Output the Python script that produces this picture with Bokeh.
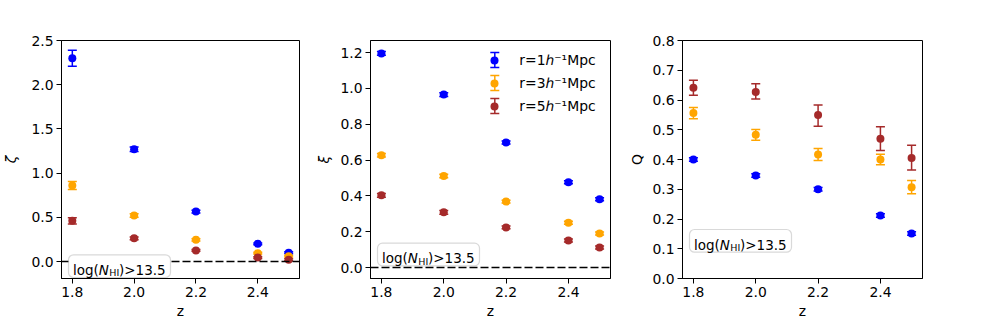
from bokeh.plotting import figure
from bokeh.layouts import row
from bokeh.models import (Range1d, FixedTicker, PrintfTickFormatter, Whisker, TeeHead,
                          ColumnDataSource, Span, BoxAnnotation, Label, Legend, LegendItem)
from bokeh.embed import file_html
from bokeh.resources import INLINE

# ---------------- data ----------------
z = [1.8, 2.0, 2.2, 2.4, 2.5]
x_ticks = [1.8, 2.0, 2.2, 2.4]
series_names = ["r=1ℎ⁻¹Mpc", "r=3ℎ⁻¹Mpc", "r=5ℎ⁻¹Mpc"]
series_colors = ["#0000ff", "#ffa500", "#a52a2a"]

# panel 1: zeta
zeta_r1 = [2.30, 1.27, 0.565, 0.20, 0.10]
zeta_r1_err = [0.09, 0.025, 0.015, 0.01, 0.01]
zeta_r3 = [0.86, 0.52, 0.245, 0.095, 0.06]
zeta_r3_err = [0.045, 0.02, 0.012, 0.01, 0.01]
zeta_r5 = [0.46, 0.262, 0.125, 0.045, 0.02]
zeta_r5_err = [0.035, 0.015, 0.01, 0.01, 0.01]
zeta_ticks = [0.0, 0.5, 1.0, 1.5, 2.0, 2.5]

# panel 2: xi
xi_r1 = [1.195, 0.965, 0.698, 0.476, 0.381]
xi_r1_err = [0.01, 0.01, 0.008, 0.008, 0.008]
xi_r3 = [0.627, 0.511, 0.368, 0.250, 0.190]
xi_r3_err = [0.01, 0.01, 0.008, 0.008, 0.008]
xi_r5 = [0.403, 0.308, 0.224, 0.151, 0.112]
xi_r5_err = [0.01, 0.01, 0.008, 0.008, 0.008]
xi_ticks = [0.0, 0.2, 0.4, 0.6, 0.8, 1.0, 1.2]

# panel 3: Q
q_r1 = [0.400, 0.346, 0.300, 0.212, 0.151]
q_r1_err_lo = [0.006, 0.006, 0.006, 0.006, 0.006]
q_r1_err_hi = [0.006, 0.006, 0.006, 0.006, 0.006]
q_r3 = [0.556, 0.483, 0.417, 0.400, 0.307]
q_r3_err_lo = [0.019, 0.018, 0.020, 0.018, 0.022]
q_r3_err_hi = [0.019, 0.018, 0.020, 0.018, 0.022]
q_r5 = [0.641, 0.627, 0.550, 0.470, 0.405]
q_r5_err_lo = [0.025, 0.024, 0.038, 0.040, 0.040]
q_r5_err_hi = [0.025, 0.028, 0.033, 0.040, 0.043]
q_ticks = [0.0, 0.1, 0.2, 0.3, 0.4, 0.5, 0.6, 0.7, 0.8]

FONT = "DejaVu Sans"
FS = "13.9px"


def make_panel(ylabel, series, yr, yticks, ylabel_style, ylabel_standoff, box_bottom,
               width, left, right, zero_line):
    p = figure(width=width, height=323, x_range=Range1d(1.765, 2.535),
               y_range=Range1d(*yr), output_backend="svg", toolbar_location=None,
               min_border_left=left, min_border_right=right, min_border_top=40,
               min_border_bottom=45)
    p.grid.visible = False
    p.outline_line_color = "black"
    p.outline_line_width = 1
    p.background_fill_color = "white"
    p.border_fill_color = "white"
    for ax in (p.xaxis[0], p.yaxis[0]):
        ax.major_label_text_font = FONT
        ax.major_label_text_font_size = FS
        ax.major_label_text_color = "black"
        ax.axis_label_text_font = FONT
        ax.axis_label_text_font_size = FS
        ax.axis_label_text_color = "black"
        ax.major_tick_out = 5
        ax.major_tick_in = 0
        ax.minor_tick_out = 0
        ax.minor_tick_in = 0
        ax.major_tick_line_color = "black"
        ax.axis_line_color = "black"
    p.xaxis.ticker = FixedTicker(ticks=x_ticks)
    p.xaxis.formatter = PrintfTickFormatter(format="%.1f")
    p.xaxis.axis_label = "z"
    p.xaxis.axis_label_text_font_style = "normal"
    p.xaxis.major_label_standoff = 3
    p.xaxis.axis_label_standoff = 3
    p.yaxis.ticker = FixedTicker(ticks=yticks)
    p.yaxis.formatter = PrintfTickFormatter(format="%.1f")
    p.yaxis.axis_label = ylabel
    p.yaxis.axis_label_text_font_style = ylabel_style
    p.yaxis.major_label_standoff = 3
    p.yaxis.axis_label_standoff = ylabel_standoff

    if zero_line:
        p.add_layout(Span(location=0, dimension="width", line_color="black",
                          line_width=1.6, line_dash="8 3"))

    renderers = []
    for (vals, lo, hi), color in zip(series, series_colors):
        src = ColumnDataSource(dict(
            x=z, y=vals,
            lower=[v - e for v, e in zip(vals, lo)],
            upper=[v + e for v, e in zip(vals, hi)]))
        w = Whisker(source=src, base="x", lower="lower", upper="upper",
                    dimension="height", line_color=color, line_width=1.5,
                    upper_head=TeeHead(size=9, line_color=color, line_width=1.5),
                    lower_head=TeeHead(size=9, line_color=color, line_width=1.5))
        p.add_layout(w)
        r = p.scatter("x", "y", source=src, size=8, fill_color=color,
                      line_color=color, line_width=0)
        renderers.append(r)

    # text box log(N_HI)>13.5
    bl, bb, bw, bh = 7, box_bottom, 102, 22.7
    p.add_layout(BoxAnnotation(left=bl, right=bl + bw, bottom=bb, top=bb + bh,
                               left_units="screen", right_units="screen",
                               top_units="screen", bottom_units="screen",
                               fill_color="white", fill_alpha=1.0,
                               line_color="#808080", line_width=1.2, border_radius=5,
                               level="annotation"))
    tx = bl + 4.5
    ty = bb + 7.5
    common = dict(x_units="screen", y_units="screen", text_font=FONT,
                  text_color="black", text_baseline="alphabetic", text_align="left")
    p.add_layout(Label(x=tx, y=ty, text="log(", text_font_size="13.5px", **common))
    p.add_layout(Label(x=tx + 25.8, y=ty, text="N", text_font_size="13.5px",
                       text_font_style="italic", **common))
    p.add_layout(Label(x=tx + 36.3, y=ty - 2.8, text="HI", text_font_size="9.5px", **common))
    p.add_layout(Label(x=tx + 46.0, y=ty, text=")>13.5", text_font_size="13.5px", **common))
    return p, renderers


p1, _ = make_panel("ζ", [(zeta_r1, zeta_r1_err, zeta_r1_err),
                         (zeta_r3, zeta_r3_err, zeta_r3_err),
                         (zeta_r5, zeta_r5_err, zeta_r5_err)],
                   (-0.192, 2.5), zeta_ticks, "italic", 9, 1, 312, 59, 13, True)
p2, rends = make_panel("ξ", [(xi_r1, xi_r1_err, xi_r1_err),
                             (xi_r3, xi_r3_err, xi_r3_err),
                             (xi_r5, xi_r5_err, xi_r5_err)],
                       (-0.061, 1.267), xi_ticks, "italic", 5, 12.7, 311, 58, 13, True)
p3, _ = make_panel("Q", [(q_r1, q_r1_err_lo, q_r1_err_hi),
                         (q_r3, q_r3_err_lo, q_r3_err_hi),
                         (q_r5, q_r5_err_lo, q_r5_err_hi)],
                   (0.0, 0.8), q_ticks, "normal", 4, 26.3, 350, 59, 51, False)

# legend in panel 2
leg_x, leg_y = 114.3, 162.4
legend = Legend(items=[LegendItem(label=n, renderers=[r]) for n, r in zip(series_names, rends)],
                location=(leg_x, leg_y), padding=0, spacing=3, glyph_width=20,
                glyph_height=20, label_height=20, label_standoff=15,
                label_text_font=FONT, label_text_font_size=FS, label_text_color="black",
                border_line_alpha=0, background_fill_alpha=0)
p2.add_layout(legend)
for i, color in enumerate(series_colors):
    cy = leg_y + 66 - 10 - 23 * i
    src = ColumnDataSource(dict(b=[leg_x + 10], lo=[cy - 7.5], hi=[cy + 7.5]))
    p2.add_layout(Whisker(source=src, base="b", lower="lo", upper="hi",
                          base_units="screen", lower_units="screen", upper_units="screen",
                          dimension="height", line_color=color, line_width=1.5,
                          upper_head=TeeHead(size=9, line_color=color, line_width=1.5),
                          lower_head=TeeHead(size=9, line_color=color, line_width=1.5)))

layout = row(p1, p2, p3, spacing=0)
open("out.html", "w").write(file_html(layout, INLINE))
